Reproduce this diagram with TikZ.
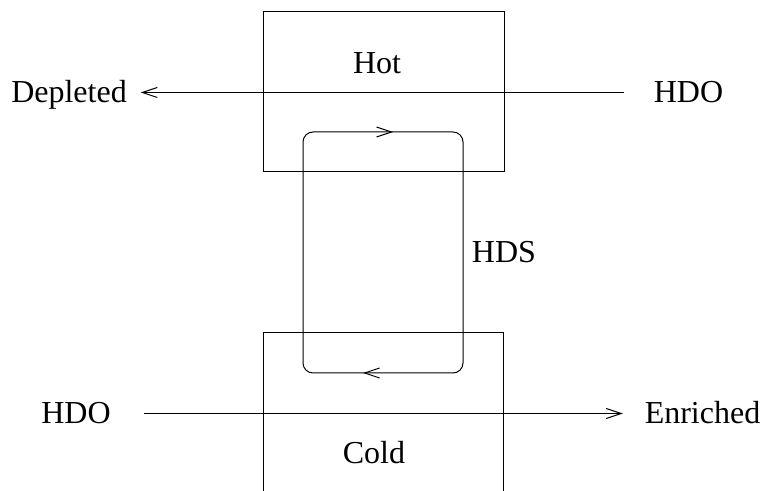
\documentclass[tikz,border=0pt]{standalone}
\usepackage{fontspec}
\setmainfont{Liberation Serif}
\usetikzlibrary{positioning,arrows.meta,decorations.markings}

\begin{document}
\begin{tikzpicture}[
  x=0.5pt, y=-0.5pt,
  every node/.style={font=\fontsize{16}{19}\selectfont, inner sep=0pt},
  tank/.style ={draw, line width=0.5pt, minimum width=120.5pt, minimum height=80pt},
  lbl/.style  ={text height=12pt, text depth=1.5pt, outer sep=#1},
  lbl/.default=7pt,
  flow/.style ={-{Straight Barb[length=7.5pt,width=5pt]}, line width=0.5pt},
  hdsloop/.style={line width=0.5pt, rounded corners=5pt,
                postaction={decorate, decoration={markings,
                  mark=at position 96.9pt with {\arrow{Straight Barb[length=7.5pt,width=5pt]}},
                  mark=at position 298pt with {\arrow{Straight Barb[length=7.5pt,width=5pt]}}}}},
]
\useasboundingbox (0,0) rectangle (766,491);

%% hot and cold columns
\node[tank] (hot) at (383.5,92) {};
\node (hottxt) at (377,63) {Hot};

\coordinate (cbl) at (263,492);
\coordinate (cbr) at (503.5,492);
\draw[line width=0.5pt] (cbl) |- (503.5,333) -- (cbr);
\node (coldtxt) at (374,453) {Cold};

%% HDS loop between the columns
\draw[hdsloop] (303,250) -- (303,132) -- (463,132) -- (463,373) -- (303,373) -- cycle;
\node (hds) at (504,252) {HDS};

%% water streams
\node[lbl=15pt]   (hdoin)  at (688.5,92.5) {HDO};
\node[lbl]        (depl)   at (69,92.5)    {Depleted};
\draw[flow] (hdoin.west) -- (depl.east);

\node[lbl=16.5pt] (hdoout) at (76,413.5)   {HDO};
\node[lbl=11pt]   (enr)    at (702.5,413.5) {Enriched};
\draw[flow] (hdoout.east) -- (enr.west);

\end{tikzpicture}
\end{document}
